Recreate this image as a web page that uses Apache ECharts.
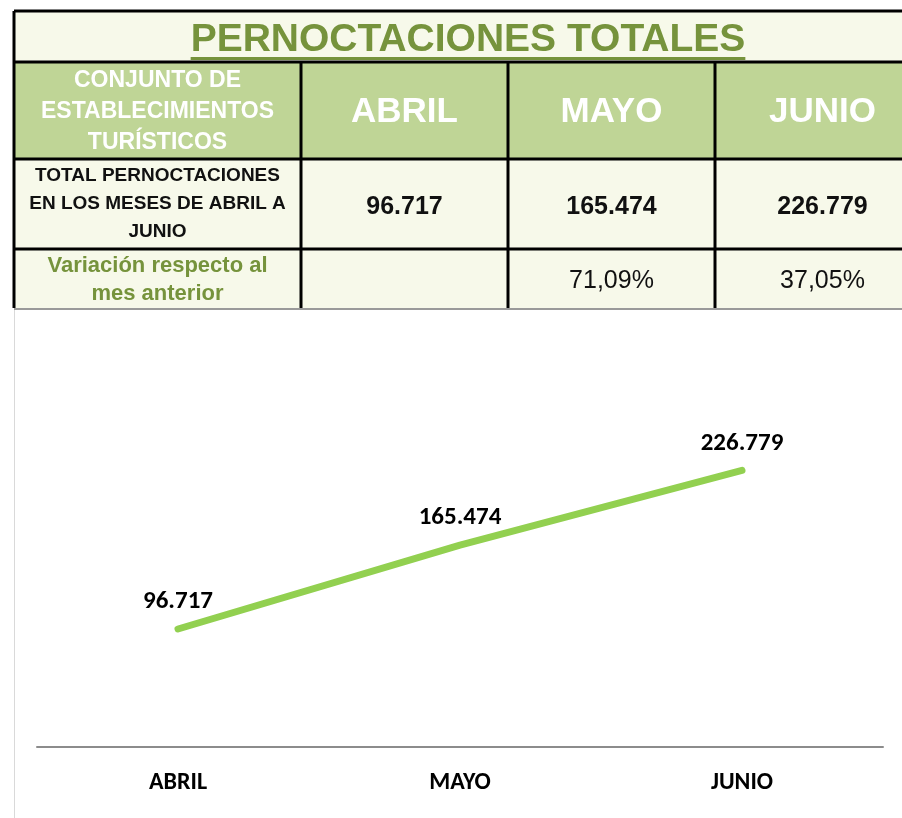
<!DOCTYPE html>
<html>
<head>
<meta charset="utf-8">
<script src="https://cdn.jsdelivr.net/npm/echarts@6/dist/echarts.min.js"></script>
<style>
  html, body { margin: 0; padding: 0; background: #fff; }
  #chart { width: 902px; height: 818px; }
</style>
</head>
<body>
<div id="chart"></div>
<script>
// data
const title = 'PERNOCTACIONES TOTALES'
const months = ['ABRIL', 'MAYO', 'JUNIO']
const totals = [96717, 165474, 226779]
const variation = ['', '71,09%', '37,05%']
const rowHeads = [
  'CONJUNTO DE\nESTABLECIMIENTOS\nTURÍSTICOS',
  'TOTAL PERNOCTACIONES\nEN LOS MESES DE ABRIL A\nJUNIO',
  'Variación respecto al\nmes anterior'
]

const ARIAL = '"Liberation Sans", Arial, sans-serif'
const CALIBRI = 'Carlito, Lato, "Open Sans", sans-serif'
const GREEN_TXT = '#76933C'

// table grid (px)
const cols = [14, 301, 508, 715, 930]
const rows = [11, 62, 159, 249, 308]

function fmt(v) {
  return String(v).replace(/\B(?=(\d{3})+(?!\d))/g, '.')
}

function textEl(str, x, y, size, weight, color, lh) {
  return {
    type: 'text', z: 5,
    style: {
      text: str, x: x, y: y,
      align: 'center', verticalAlign: 'middle',
      textAlign: 'center', textVerticalAlign: 'middle',
      font: weight + ' ' + size + 'px ' + ARIAL,
      fill: color, lineHeight: lh || Math.round(size * 1.2)
    }
  }
}

function lineEl(x1, y1, x2, y2, color, w) {
  return {
    type: 'line', z: 8,
    shape: { x1: x1, y1: y1, x2: x2, y2: y2 },
    style: { stroke: color, lineWidth: w }
  }
}

function buildTable() {
  const els = []
  const left = cols[0], right = cols[cols.length - 1]
  const cx = (i) => (cols[i] + cols[i + 1]) / 2
  const cy = (j) => (rows[j] + rows[j + 1]) / 2

  // backgrounds
  els.push({ type: 'rect', z: 1, shape: { x: left, y: rows[0], width: right - left, height: rows[1] - rows[0] }, style: { fill: '#F7F9EA' } })
  els.push({ type: 'rect', z: 1, shape: { x: left, y: rows[1], width: right - left, height: rows[2] - rows[1] }, style: { fill: '#BFD596' } })
  els.push({ type: 'rect', z: 1, shape: { x: left, y: rows[2], width: right - left, height: rows[4] - rows[2] }, style: { fill: '#F7F9EA' } })

  // title + underline
  const titleSize = 39
  const ctx = document.createElement('canvas').getContext('2d')
  ctx.font = 'bold ' + titleSize + 'px ' + ARIAL
  const tw = ctx.measureText(title).width
  const tx = (left + 922) / 2
  els.push(textEl(title, tx, 40, titleSize, 'bold', GREEN_TXT))
  els.push(lineEl(tx - tw / 2, 58.5, tx + tw / 2, 58.5, GREEN_TXT, 3))

  // header row
  els.push(textEl(rowHeads[0], cx(0), cy(1) + 1, 23, 'bold', '#fff', 31))
  months.forEach((m, i) => els.push(textEl(m, cx(i + 1), cy(1) + 2, 35, 'bold', '#fff')))

  // totals row
  els.push(textEl(rowHeads[1], cx(0), cy(2), 19, 'bold', '#111', 28))
  totals.forEach((v, i) => els.push(textEl(fmt(v), cx(i + 1), cy(2) + 3, 25, 'bold', '#111')))

  // variation row
  els.push(textEl(rowHeads[2], cx(0), cy(3) + 1, 22, 'bold', GREEN_TXT, 28))
  variation.forEach((v, i) => { if (v) els.push(textEl(v, cx(i + 1), cy(3) + 3, 25, 'normal', '#111')) })

  // grid lines
  for (let j = 0; j < rows.length - 1; j++) els.push(lineEl(left, rows[j], right, rows[j], '#000', 3))
  els.push(lineEl(left, rows[0], left, rows[4], '#000', 3))
  for (let i = 1; i < cols.length - 1; i++) els.push(lineEl(cols[i], rows[1], cols[i], rows[4], '#000', 3))
  els.push(lineEl(left, rows[4] + 1, right, rows[4] + 1, '#9a9a9a', 2))

  // chart area frame
  els.push(lineEl(left + 0.5, rows[4] + 2, left + 0.5, 818, '#d9d9d9', 1))
  return els
}

const chart = echarts.init(document.getElementById('chart'), null, { renderer: 'canvas' })

chart.setOption({
  animation: false,
  backgroundColor: '#fff',
  graphic: { elements: buildTable() },
  grid: { left: 37, right: 19, top: 381, bottom: 71 },
  xAxis: {
    type: 'category',
    data: months,
    boundaryGap: true,
    axisLine: { lineStyle: { color: '#8c8c8c', width: 2 } },
    axisTick: { show: false },
    axisLabel: { color: '#000', fontFamily: CALIBRI, fontWeight: 'bold', fontSize: 24, margin: 24 }
  },
  yAxis: {
    type: 'value',
    min: 0,
    max: 300000,
    show: false,
    splitLine: { show: false }
  },
  series: [
    {
      type: 'line',
      data: totals,
      showSymbol: true,
      symbol: 'circle',
      symbolSize: 1,
      itemStyle: { color: 'rgba(146,208,80,0)' },
      lineStyle: { color: '#92D050', width: 7, cap: 'round', join: 'round' },
      label: {
        show: true,
        position: 'top',
        distance: 14,
        color: '#000',
        fontFamily: CALIBRI,
        fontWeight: 'bold',
        fontSize: 25,
        formatter: (p) => fmt(p.value)
      }
    }
  ]
})
</script>
</body>
</html>
